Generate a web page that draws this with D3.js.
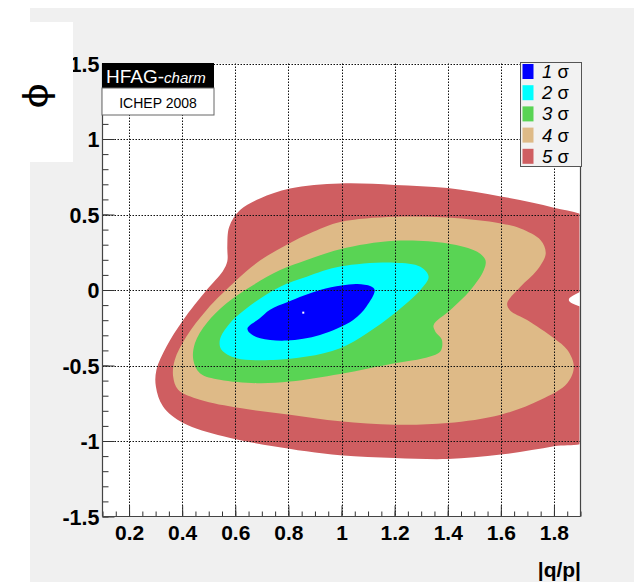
<!DOCTYPE html>
<html>
<head>
<meta charset="utf-8">
<script src="https://cdn.jsdelivr.net/npm/d3@7"></script>
<style>
  html, body { margin: 0; padding: 0; background: #ffffff; }
  svg { display: block; }
  text { font-family: "Liberation Sans", Arial, sans-serif; }
</style>
</head>
<body>
<svg id="chart" width="634" height="582"></svg>
<script>
// Confidence-level contours in the (|q/p|, phi) plane, outermost first.
// Each contour is a closed list of [|q/p|, phi] points.
const sigma5 = [
  [0.995, 0.705], [1.2, 0.696], [1.4, 0.675], [1.6, 0.62], [1.8, 0.545], [1.93, 0.47],
  [1.95, 0.25], [1.93, 0.03], [1.856, -0.066], [1.93, -0.15], [1.95, -0.5], [1.93, -0.99],
  [1.8, -1.035], [1.6, -1.09], [1.4, -1.119], [1.2, -1.112], [0.995, -1.095], [0.743, -1.035],
  [0.555, -0.969], [0.404, -0.881], [0.328, -0.771], [0.301, -0.639], [0.303, -0.529],
  [0.341, -0.374], [0.404, -0.198], [0.492, 0.0], [0.553, 0.125], [0.570, 0.19],
  [0.570, 0.286], [0.577, 0.418], [0.618, 0.529], [0.693, 0.606], [0.806, 0.672]
];
const sigma4 = [
  [0.995, 0.45], [1.2, 0.485], [1.4, 0.48], [1.6, 0.441], [1.674, 0.407], [1.75, 0.33],
  [1.769, 0.242], [1.737, 0.132], [1.674, 0.022], [1.624, -0.088], [1.635, -0.135],
  [1.699, -0.198], [1.8, -0.319], [1.85, -0.396], [1.875, -0.507], [1.85, -0.617],
  [1.75, -0.727], [1.6, -0.826], [1.4, -0.881], [1.2, -0.892], [0.995, -0.87],
  [0.806, -0.826], [0.618, -0.782], [0.467, -0.727], [0.385, -0.661], [0.366, -0.573],
  [0.372, -0.463], [0.416, -0.308], [0.492, -0.132], [0.605, 0.066], [0.693, 0.195],
  [0.794, 0.30], [0.894, 0.385]
];
const sigma3 = [
  [0.995, 0.27], [1.2, 0.326], [1.4, 0.308], [1.511, 0.253], [1.542, 0.198], [1.536, 0.132],
  [1.486, 0.0], [1.41, -0.132], [1.347, -0.231], [1.353, -0.275], [1.378, -0.330],
  [1.372, -0.407], [1.309, -0.452], [1.2, -0.485], [0.995, -0.556], [0.806, -0.606],
  [0.681, -0.617], [0.542, -0.595], [0.467, -0.551], [0.442, -0.463], [0.448, -0.352],
  [0.492, -0.220], [0.567, -0.088], [0.668, 0.033], [0.769, 0.132], [0.869, 0.198]
];
const sigma2 = [
  [0.995, 0.155], [1.2, 0.181], [1.297, 0.154], [1.328, 0.088], [1.297, 0.0], [1.2, -0.154],
  [1.096, -0.286], [0.995, -0.385], [0.869, -0.441], [0.743, -0.463], [0.605, -0.452],
  [0.548, -0.396], [0.542, -0.330], [0.580, -0.220], [0.668, -0.088], [0.769, 0.022],
  [0.869, 0.088]
];
const sigma1 = [
  [0.646, -0.254], [0.69, -0.19], [0.731, -0.13], [0.80, -0.077], [0.919, 0.0], [1.0, 0.03],
  [1.06, 0.04], [1.11, 0.025], [1.125, 0.0], [1.094, -0.11], [1.044, -0.199],
  [0.919, -0.298], [0.794, -0.335], [0.694, -0.32], [0.655, -0.285]
];
const bestFit = [0.856, -0.15];

const levels = ["1", "2", "3", "4", "5"];
const levelColors = ["#0000ff", "#00ffff", "#59d454", "#deba87", "#cf5e61"];
const contours = [sigma1, sigma2, sigma3, sigma4, sigma5];

const xTicks = [0.2, 0.4, 0.6, 0.8, 1.0, 1.2, 1.4, 1.6, 1.8];
const xTickLabels = ["0.2", "0.4", "0.6", "0.8", "1", "1.2", "1.4", "1.6", "1.8"];
const yTicks = [-1.5, -1, -0.5, 0, 0.5, 1, 1.5];
const yTickLabels = ["-1.5", "-1", "-0.5", "0", "0.5", "1", "1.5"];
const xMinorTicks = d3.range(0.1, 1.9001, 0.05).map(v => +v.toFixed(2));
const yMinorTicks = d3.range(-1.5, 1.5001, 0.1).map(v => +v.toFixed(2));

const svg = d3.select("#chart");
const W = 634, H = 582;
const frame = { left: 102.5, right: 580.5, top: 63.5, bottom: 516.5 };

const x = d3.scaleLinear().domain([0.1, 1.9]).range([frame.left, frame.right]);
const y = d3.scaleLinear().domain([-1.5, 1.5]).range([frame.bottom, frame.top]);

// page background
svg.append("rect").attr("x", 0).attr("y", 0).attr("width", W).attr("height", H).attr("fill", "#ffffff");
svg.append("rect").attr("x", 30).attr("y", 8).attr("width", W - 30).attr("height", H - 8).attr("fill", "#f0f0f0");

// plotting area
svg.append("rect")
  .attr("x", frame.left).attr("y", frame.top)
  .attr("width", frame.right - frame.left).attr("height", frame.bottom - frame.top)
  .attr("fill", "#ffffff");

svg.append("clipPath").attr("id", "plotClip")
  .append("rect")
  .attr("x", frame.left).attr("y", frame.top)
  .attr("width", frame.right - frame.left - 1).attr("height", frame.bottom - frame.top);

const line = d3.line()
  .x(d => x(d[0])).y(d => y(d[1]))
  .curve(d3.curveCatmullRomClosed.alpha(0.5));

const regions = svg.append("g").attr("clip-path", "url(#plotClip)");
contours.slice().reverse().forEach((pts, i) => {
  const idx = contours.length - 1 - i;
  regions.append("path").attr("d", line(pts)).attr("fill", levelColors[idx]);
});

regions.append("rect")
  .attr("x", x(bestFit[0]) - 1).attr("y", y(bestFit[1]) - 1)
  .attr("width", 2).attr("height", 2).attr("fill", "#ffffff");

// dotted grid
const grid = svg.append("g").attr("stroke", "#111").attr("stroke-width", 1)
  .attr("stroke-dasharray", "1.5,1.5");
xTicks.forEach(v => {
  grid.append("line").attr("x1", Math.round(x(v)) + 0.5).attr("x2", Math.round(x(v)) + 0.5)
    .attr("y1", frame.top).attr("y2", frame.bottom);
});
yTicks.filter(v => v > -1.5).forEach(v => {
  grid.append("line").attr("y1", Math.round(y(v)) + 0.5).attr("y2", Math.round(y(v)) + 0.5)
    .attr("x1", frame.left).attr("x2", frame.right);
});

// axes: ticks point into the frame
function styleAxis(g) {
  g.select(".domain").remove();
  g.selectAll(".tick line").attr("stroke", "#333");
}
svg.append("g").attr("transform", `translate(${frame.left},0)`)
  .call(d3.axisLeft(y).tickValues(yMinorTicks).tickSize(-6).tickFormat(""))
  .call(styleAxis);
svg.append("g").attr("transform", `translate(${frame.left},0)`)
  .call(d3.axisLeft(y).tickValues(yTicks).tickSize(-12).tickPadding(3)
    .tickFormat((d, i) => yTickLabels[i]))
  .call(styleAxis)
  .call(g => g.selectAll("text")
    .attr("font-size", 21.5).attr("font-weight", "bold").attr("fill", "#000")
    .attr("font-family", "Liberation Sans, Arial, sans-serif")
    .attr("dy", "0.36em"));

svg.append("g").attr("transform", `translate(0,${frame.bottom})`)
  .call(d3.axisBottom(x).tickValues(xMinorTicks).tickSize(-5).tickFormat(""))
  .call(styleAxis);
svg.append("g").attr("transform", `translate(0,${frame.bottom})`)
  .call(d3.axisBottom(x).tickValues(xTicks).tickSize(-11).tickPadding(9)
    .tickFormat((d, i) => xTickLabels[i]))
  .call(styleAxis)
  .call(g => g.selectAll("text")
    .attr("font-size", 21).attr("font-weight", "bold").attr("fill", "#000")
    .attr("font-family", "Liberation Sans, Arial, sans-serif"));

// frame lines
const fr = svg.append("g").attr("stroke", "#444").attr("stroke-width", 1.2).attr("fill", "none");
fr.append("line").attr("x1", frame.left).attr("x2", frame.left).attr("y1", frame.top).attr("y2", frame.bottom);
fr.append("line").attr("x1", frame.left).attr("x2", frame.right).attr("y1", frame.bottom).attr("y2", frame.bottom);
fr.append("line").attr("x1", frame.right).attr("x2", frame.right).attr("y1", frame.top).attr("y2", frame.bottom);

// axis titles
svg.append("text").attr("x", 581).attr("y", 577).attr("text-anchor", "end")
  .attr("font-size", 21).attr("font-weight", "bold").text("|q/p|");

// white label box for the vertical title (covers part of the top tick label)
svg.append("rect").attr("x", 30).attr("y", 22).attr("width", 43).attr("height", 140).attr("fill", "#ffffff");
const phiTitle = svg.append("text")
  .attr("font-family", "DejaVu Sans, sans-serif").attr("font-size", 36)
  .text("ϕ");
const pb = phiTitle.node().getBBox();
// centre the rotated glyph on the title position
phiTitle.attr("transform",
  `translate(36,96) rotate(-90) scale(1.25,0.95) translate(${-(pb.x + pb.width / 2)},${-(pb.y + pb.height / 2)})`);

// HFAG tag
svg.append("rect").attr("x", frame.left - 0.5).attr("y", frame.top - 0.5).attr("width", 112).attr("height", 25).attr("fill", "#000");
svg.append("rect").attr("x", frame.left - 0.5).attr("y", 88).attr("width", 112).attr("height", 27)
  .attr("fill", "#ffffff").attr("stroke", "#666").attr("stroke-width", 1);
const tag = svg.append("text").attr("x", 106).attr("y", 82.5).attr("fill", "#ffffff");
tag.append("tspan").attr("font-size", 19).text("HFAG-");
tag.append("tspan").attr("font-size", 15).attr("font-style", "italic").text("charm");
svg.append("text").attr("x", 158).attr("y", 107.5).attr("text-anchor", "middle")
  .attr("font-size", 14).attr("fill", "#000").text("ICHEP 2008");

// legend
const legend = svg.append("g");
legend.append("rect").attr("x", 520.5).attr("y", 62.5).attr("width", 61).attr("height", 104)
  .attr("fill", "#f2f2f2").attr("stroke", "#555").attr("stroke-width", 1);
levels.forEach((lv, i) => {
  const cy = 71.5 + i * 21.2;
  legend.append("rect").attr("x", 522.5).attr("y", cy - 7.5).attr("width", 11).attr("height", 15)
    .attr("fill", levelColors[i]);
  const t = legend.append("text").attr("x", 542).attr("y", cy + 6.5).attr("font-size", 18.5).attr("fill", "#000");
  t.append("tspan").attr("font-style", "italic").text(lv);
  t.append("tspan").text(" σ");
});
</script>
</body>
</html>
